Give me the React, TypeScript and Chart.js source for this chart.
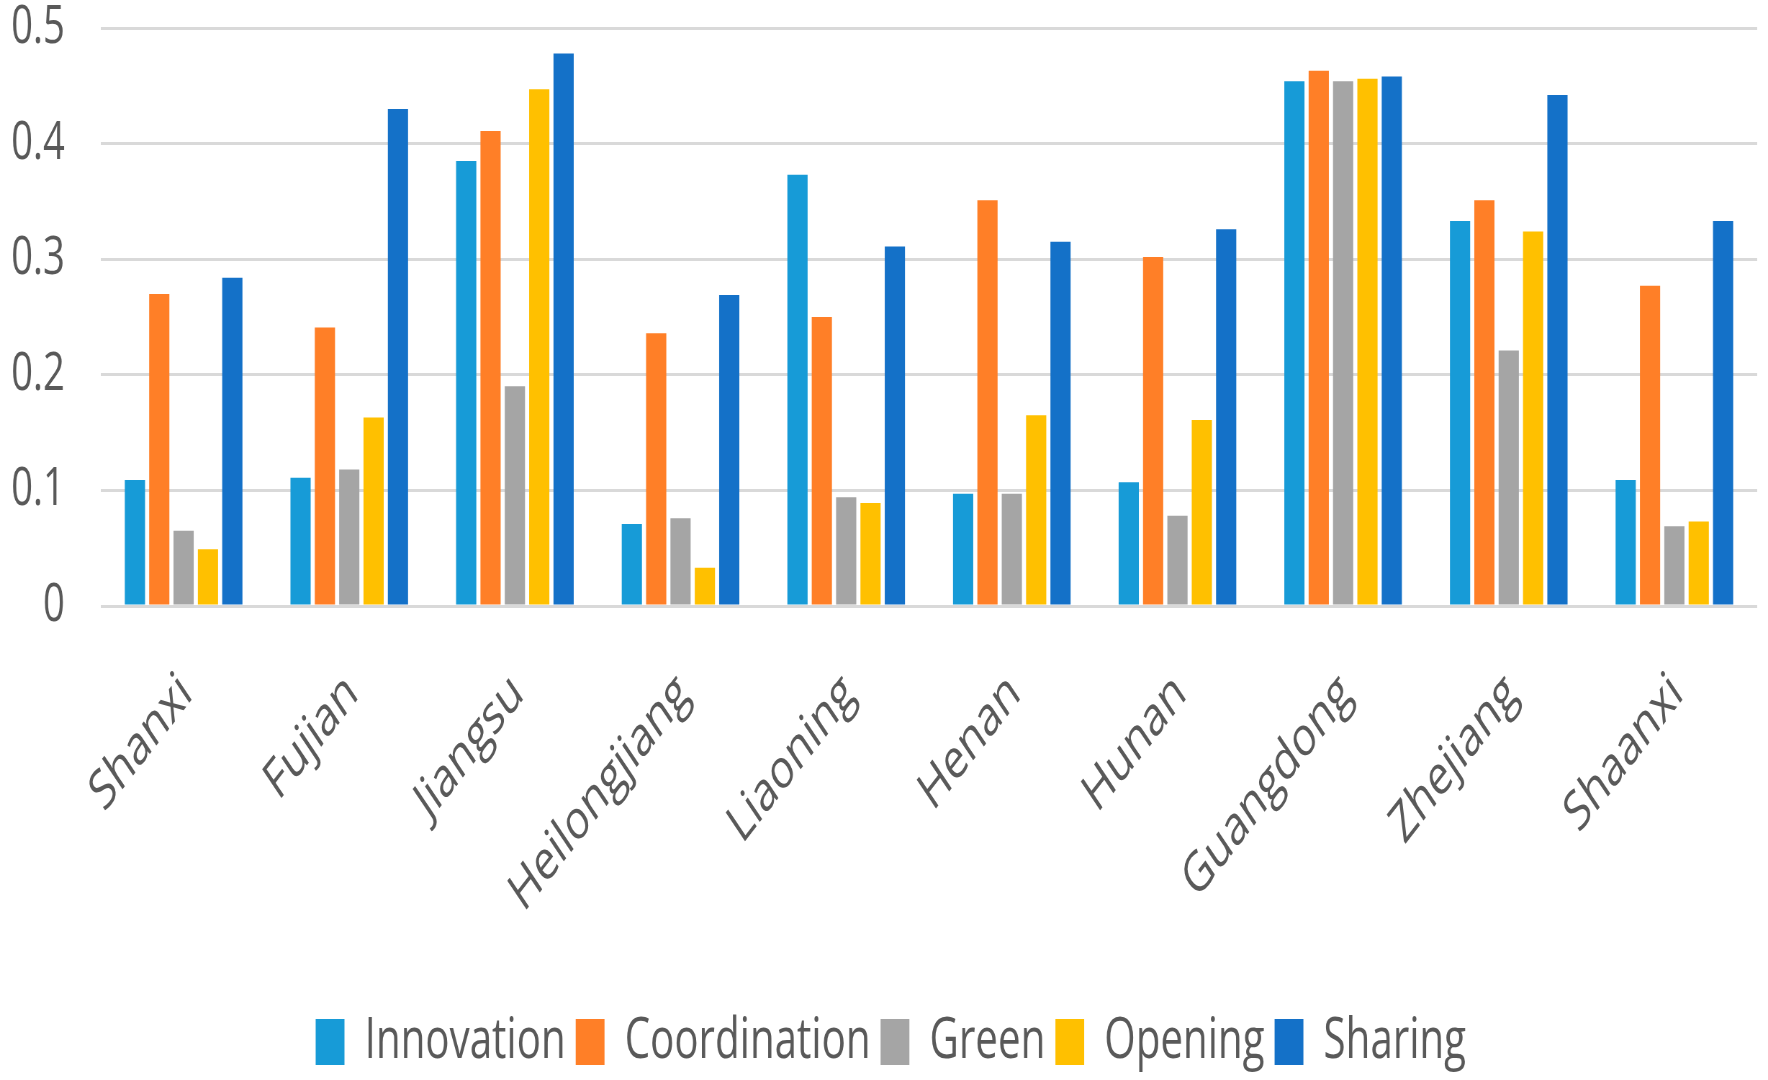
import React, { useEffect, useRef } from "react";
import { Chart, registerables } from "chart.js";

Chart.register(...registerables);

const provinces = ["Shanxi", "Fujian", "Jiangsu", "Heilongjiang", "Liaoning", "Henan", "Hunan", "Guangdong", "Zhejiang", "Shaanxi"];
const innovation = [0.109, 0.111, 0.385, 0.071, 0.373, 0.097, 0.107, 0.454, 0.333, 0.109];
const coordination = [0.270, 0.241, 0.411, 0.236, 0.250, 0.351, 0.302, 0.463, 0.351, 0.277];
const green = [0.065, 0.118, 0.190, 0.076, 0.094, 0.097, 0.078, 0.454, 0.221, 0.069];
const opening = [0.049, 0.163, 0.447, 0.033, 0.089, 0.165, 0.161, 0.456, 0.324, 0.073];
const sharing = [0.284, 0.430, 0.478, 0.269, 0.311, 0.315, 0.326, 0.458, 0.442, 0.333];
const yTicks = [0, 0.1, 0.2, 0.3, 0.4, 0.5];

const FONT = "'Open Sans', sans-serif";
const TEXT = "#595959";
// The reference's lettering is horizontally condensed; the chart is drawn on a
// wider canvas and displayed at 1768px wide.
const OUT_W = 1768;
const OUT_H = 1080;
const SX = 0.72;
const IN_W = Math.round(OUT_W / SX);

const legendShift = {
  id: "legendShift",
  afterLayout(chart: any) {
    const l = chart.legend;
    if (l) { l.left += 17; l.right += 17; }
  },
};

export default function App() {
  const ref = useRef<HTMLCanvasElement | null>(null);
  useEffect(() => {
    document.body.style.margin = "0";
    const ctx = ref.current!;
    const mk = (label: string, data: number[], color: string) => ({
      label, data, backgroundColor: color, borderWidth: 0,
      barPercentage: 0.83, categoryPercentage: 0.735,
    });
    const chart = new Chart(ctx, {
      type: "bar",
      data: {
        labels: provinces,
        datasets: [
          mk("Innovation", innovation, "#179BD7"),
          mk("Coordination", coordination, "#FF7F27"),
          mk("Green", green, "#A5A5A5"),
          mk("Opening", opening, "#FFC000"),
          mk("Sharing", sharing, "#1471C8"),
        ],
      },
      plugins: [legendShift],
      options: {
        animation: false,
        responsive: false,
        devicePixelRatio: 1,
        layout: { padding: { left: 0, right: 15, top: 28, bottom: 0 } },
        plugins: {
          tooltip: { enabled: false },
          legend: {
            position: "bottom",
            labels: {
              boxWidth: 40,
              boxHeight: 46,
              padding: 14,
              color: TEXT,
              font: { family: FONT, size: 56 },
            },
          },
        },
        scales: {
          x: {
            grid: { display: false },
            border: { display: false },
            ticks: {
              color: TEXT,
              font: { family: FONT, size: 55 },
              maxRotation: 43,
              minRotation: 43,
              padding: 47,
              labelOffset: 4,
              autoSkip: false,
            },
            afterFit: (s: any) => { s.height = 394; },
          },
          y: {
            min: 0,
            max: 0.5,
            afterBuildTicks: (s: any) => { s.ticks = yTicks.map((v) => ({ value: v })); },
            grid: { color: "#D9D9D9", lineWidth: 3, drawTicks: true, tickLength: 50, tickColor: "rgba(0,0,0,0)" },
            border: { display: false },
            ticks: {
              color: TEXT,
              font: { family: FONT, size: 53, lineHeight: 1.0 },
              padding: 0,
              callback: (v: any) => String(Number(v)),
            },
            afterFit: (s: any) => { s.width = 140; },
          },
        },
      },
    });
    return () => chart.destroy();
  }, []);
  return (
    <div style={{ width: OUT_W, height: OUT_H, overflow: "hidden" }}>
      <canvas ref={ref} width={IN_W} height={OUT_H} style={{ width: OUT_W + "px", height: OUT_H + "px", display: "block" }} />
    </div>
  );
}
